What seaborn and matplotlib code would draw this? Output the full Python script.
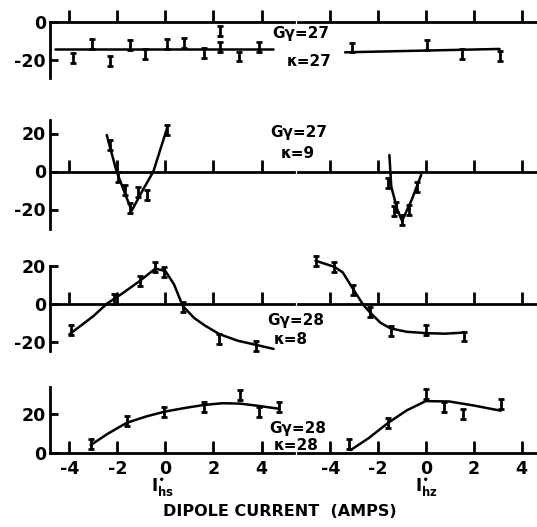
import matplotlib
matplotlib.use("Agg")
import matplotlib.pyplot as plt
import seaborn as sns
import numpy as np


# x values are dipole current (amps), y values are the measured signal
# row 1 : G gamma = 27, kappa = 27
r1_left_line_x = [-4.58, 4.46]
r1_left_line_y = [-14.3, -14.3]
r1_left_pts_x = [-3.86, -3.05, -2.32, -1.49, -0.83, 0.07, 0.79, 1.6, 2.29, 2.29, 3.05, 3.89]
r1_left_pts_y = [-19.1, -11.6, -20.5, -12.0, -17.0, -11.5, -10.8, -16.4, -4.4, -13.2, -18.2, -13.2]
r1_right_line_x = [-3.38, 3.08]
r1_right_line_y = [-15.9, -14.1]
r1_right_pts_x = [-3.1, 0.05, 1.5, 3.1]
r1_right_pts_y = [-13.4, -12.0, -16.8, -17.9]

# row 2 : G gamma = 27, kappa = 9
r2_left_line_x = [-2.44, -2.03, -1.7, -1.4, -0.95, -0.5, 0.1]
r2_left_line_y = [19.2, 0.0, -11.0, -20.6, -10.0, 0.0, 24.0]
r2_left_pts_x = [-2.3, -1.96, -1.68, -1.47, -1.13, -0.78, 0.05]
r2_left_pts_y = [14.0, -2.7, -9.7, -19.4, -10.6, -12.4, 21.8]
r2_right_line_x = [-1.53, -1.45, -1.2, -1.0, -0.6, -0.2]
r2_right_line_y = [8.7, -8.0, -20.0, -26.0, -15.0, -1.8]
r2_right_pts_x = [-1.6, -1.24, -1.32, -1.0, -0.72, -0.37]
r2_right_pts_y = [-6.2, -18.5, -21.0, -25.5, -20.3, -8.0]

# row 3 : G gamma = 28, kappa = 8
r3_left_line_x = [-3.99, -3.0, -2.42, -1.8, -1.07, -0.42, 0.0, 0.36, 0.72, 1.2, 1.65, 2.24, 3.0, 3.79, 4.5]
r3_left_line_y = [-16.1, -6.5, 0.3, 5.5, 12.2, 18.8, 17.5, 10.4, -1.0, -7.5, -11.5, -16.0, -19.5, -21.8, -23.9]
r3_left_pts_x = [-3.92, -2.14, -1.07, -0.42, -0.04, 0.72, 2.24, 3.79]
r3_left_pts_y = [-13.7, 2.7, 12.2, 19.8, 16.8, -1.5, -18.8, -22.4]
r3_right_line_x = [-4.62, -3.84, -3.48, -3.05, -2.62, -2.34, -1.9, -1.48, -0.8, 0.02, 0.8, 1.58]
r3_right_line_y = [23.0, 19.8, 16.8, 8.0, -0.5, -4.5, -10.0, -13.0, -14.8, -15.5, -15.8, -15.2]
r3_right_pts_x = [-4.6, -3.84, -3.05, -2.34, -1.48, 0.02, 1.58]
r3_right_pts_y = [22.7, 19.8, 7.6, -4.2, -14.3, -13.7, -17.3]

# row 4 : G gamma = 28, kappa = 28
r4_left_line_x = [-3.11, -2.4, -1.61, -0.8, -0.04, 0.8, 1.6, 2.38, 3.1, 3.88, 4.74]
r4_left_line_y = [3.9, 9.8, 15.5, 18.8, 21.3, 23.2, 24.8, 25.7, 25.5, 24.3, 22.8]
r4_left_pts_x = [-3.1, -1.6, -0.04, 1.6, 3.1, 3.88, 4.74]
r4_left_pts_y = [4.3, 16.4, 20.9, 23.5, 29.8, 20.9, 23.5]
r4_right_line_x = [-3.15, -2.4, -1.58, -0.8, -0.01, 0.98, 2.0, 3.13]
r4_right_line_y = [1.3, 7.5, 15.5, 22.0, 26.8, 26.6, 24.5, 21.8]
r4_right_pts_x = [-3.22, -1.58, 0.0, 0.77, 1.56, 3.13]
r4_right_pts_y = [4.3, 15.5, 30.7, 23.9, 20.0, 25.3]

x_ticks = [-4, -2, 0, 2, 4]
row_yticks = [[0, -20], [20, 0, -20], [20, 0, -20], [20, 0]]
row_ylims = [(-29.6, 0.0), (-30.0, 27.0), (-25.0, 20.4), (0.0, 34.3)]
row_labels = [("Gγ=27", "κ=27"), ("Gγ=27", "κ=9"), ("Gγ=28", "κ=8"), ("Gγ=28", "κ=28")]

rows = [
    [(r1_left_line_x, r1_left_line_y, r1_left_pts_x, r1_left_pts_y),
     (r1_right_line_x, r1_right_line_y, r1_right_pts_x, r1_right_pts_y)],
    [(r2_left_line_x, r2_left_line_y, r2_left_pts_x, r2_left_pts_y),
     (r2_right_line_x, r2_right_line_y, r2_right_pts_x, r2_right_pts_y)],
    [(r3_left_line_x, r3_left_line_y, r3_left_pts_x, r3_left_pts_y),
     (r3_right_line_x, r3_right_line_y, r3_right_pts_x, r3_right_pts_y)],
    [(r4_left_line_x, r4_left_line_y, r4_left_pts_x, r4_left_pts_y),
     (r4_right_line_x, r4_right_line_y, r4_right_pts_x, r4_right_pts_y)],
]


def main():

    sns.set_theme(style="white")
    plt.rcParams["font.family"] = ["DejaVu Sans"]
    plt.rcParams["axes.unicode_minus"] = False
    for key in ["text.color", "axes.labelcolor", "xtick.color", "ytick.color"]:
        plt.rcParams[key] = "black"

    W, H = 537, 527
    fig = plt.figure(figsize=(W / 100, H / 100), dpi=100)

    # pixel boxes (top, bottom) of each row, and (left, right, xlim) of each column
    row_px = [(22.5, 78.0), (120.2, 228.5), (265.6, 351.0), (386.7, 452.6)]
    col_px = [(50, 294, (-4.8, 5.35)), (298, 536, (-5.35, 4.6))]

    for r, (top, bot) in enumerate(row_px):
        for c, (lft, rgt, xlim) in enumerate(col_px):
            ax = fig.add_axes([lft / W, 1 - bot / H, (rgt - lft) / W, (bot - top) / H])
            ax.set_facecolor("none")
            line_x, line_y, pts_x, pts_y = rows[r][c]

            sns.lineplot(x=line_x, y=line_y, sort=False, color="black", lw=1.8,
                         ax=ax, clip_on=False)
            ax.errorbar(pts_x, pts_y, yerr=2.6, fmt="none", ecolor="black",
                        elinewidth=2.0, capsize=2.2, capthick=2.0, clip_on=False)

            ax.set_xlim(*xlim)
            ax.set_ylim(*row_ylims[r])

            for side in ["top", "right"]:
                ax.spines[side].set_visible(False)
            ax.spines["bottom"].set_position(("data", 0))
            ax.spines["bottom"].set_linewidth(2.0)
            ax.spines["bottom"].set_color("black")

            ax.set_xticks(x_ticks)
            ax.tick_params(axis="x", direction="in", length=9, width=2, color="black",
                           bottom=True, labelsize=12.5, pad=5, labelcolor="black")
            if r < 3:
                ax.set_xticklabels([])
            else:
                for lab in ax.get_xticklabels():
                    lab.set_fontweight("bold")

            if c == 0:
                ax.spines["left"].set_linewidth(2.0)
                ax.spines["left"].set_color("black")
                ax.set_yticks(row_yticks[r])
                ax.tick_params(axis="y", direction="in", length=6, width=2, color="black",
                               left=True, labelsize=12.5, pad=3, labelcolor="black")
                for lab in ax.get_yticklabels():
                    lab.set_fontweight("bold")
            else:
                ax.spines["left"].set_visible(False)
                ax.set_yticks([])

    # annotations
    label_pos = [((272, 34), (287, 61)), ((270, 132), (281, 154)),
                 ((267, 321), (274, 339)), ((269, 428), (274, 446))]
    for (g, k), ((gx, gy), (kx, ky)) in zip(row_labels, label_pos):
        fig.text(gx / W, 1 - gy / H, g, fontsize=11, fontweight="bold", va="center", ha="left")
        fig.text(kx / W, 1 - ky / H, k, fontsize=11, fontweight="bold", va="center", ha="left")

    fig.text(163 / W, 1 - 487 / H, r"$\mathbf{I}^{\bullet}_{\mathbf{hs}}$", fontsize=12, ha="center", va="center")
    fig.text(426 / W, 1 - 487 / H, r"$\mathbf{I}^{\bullet}_{\mathbf{hz}}$", fontsize=12, ha="center", va="center")
    fig.text(280 / W, 1 - 512 / H, "DIPOLE CURRENT  (AMPS)", fontsize=11.5, fontweight="bold",
             ha="center", va="center")

    fig.savefig("out.png", dpi=100)


if __name__ == "__main__":
    main()
